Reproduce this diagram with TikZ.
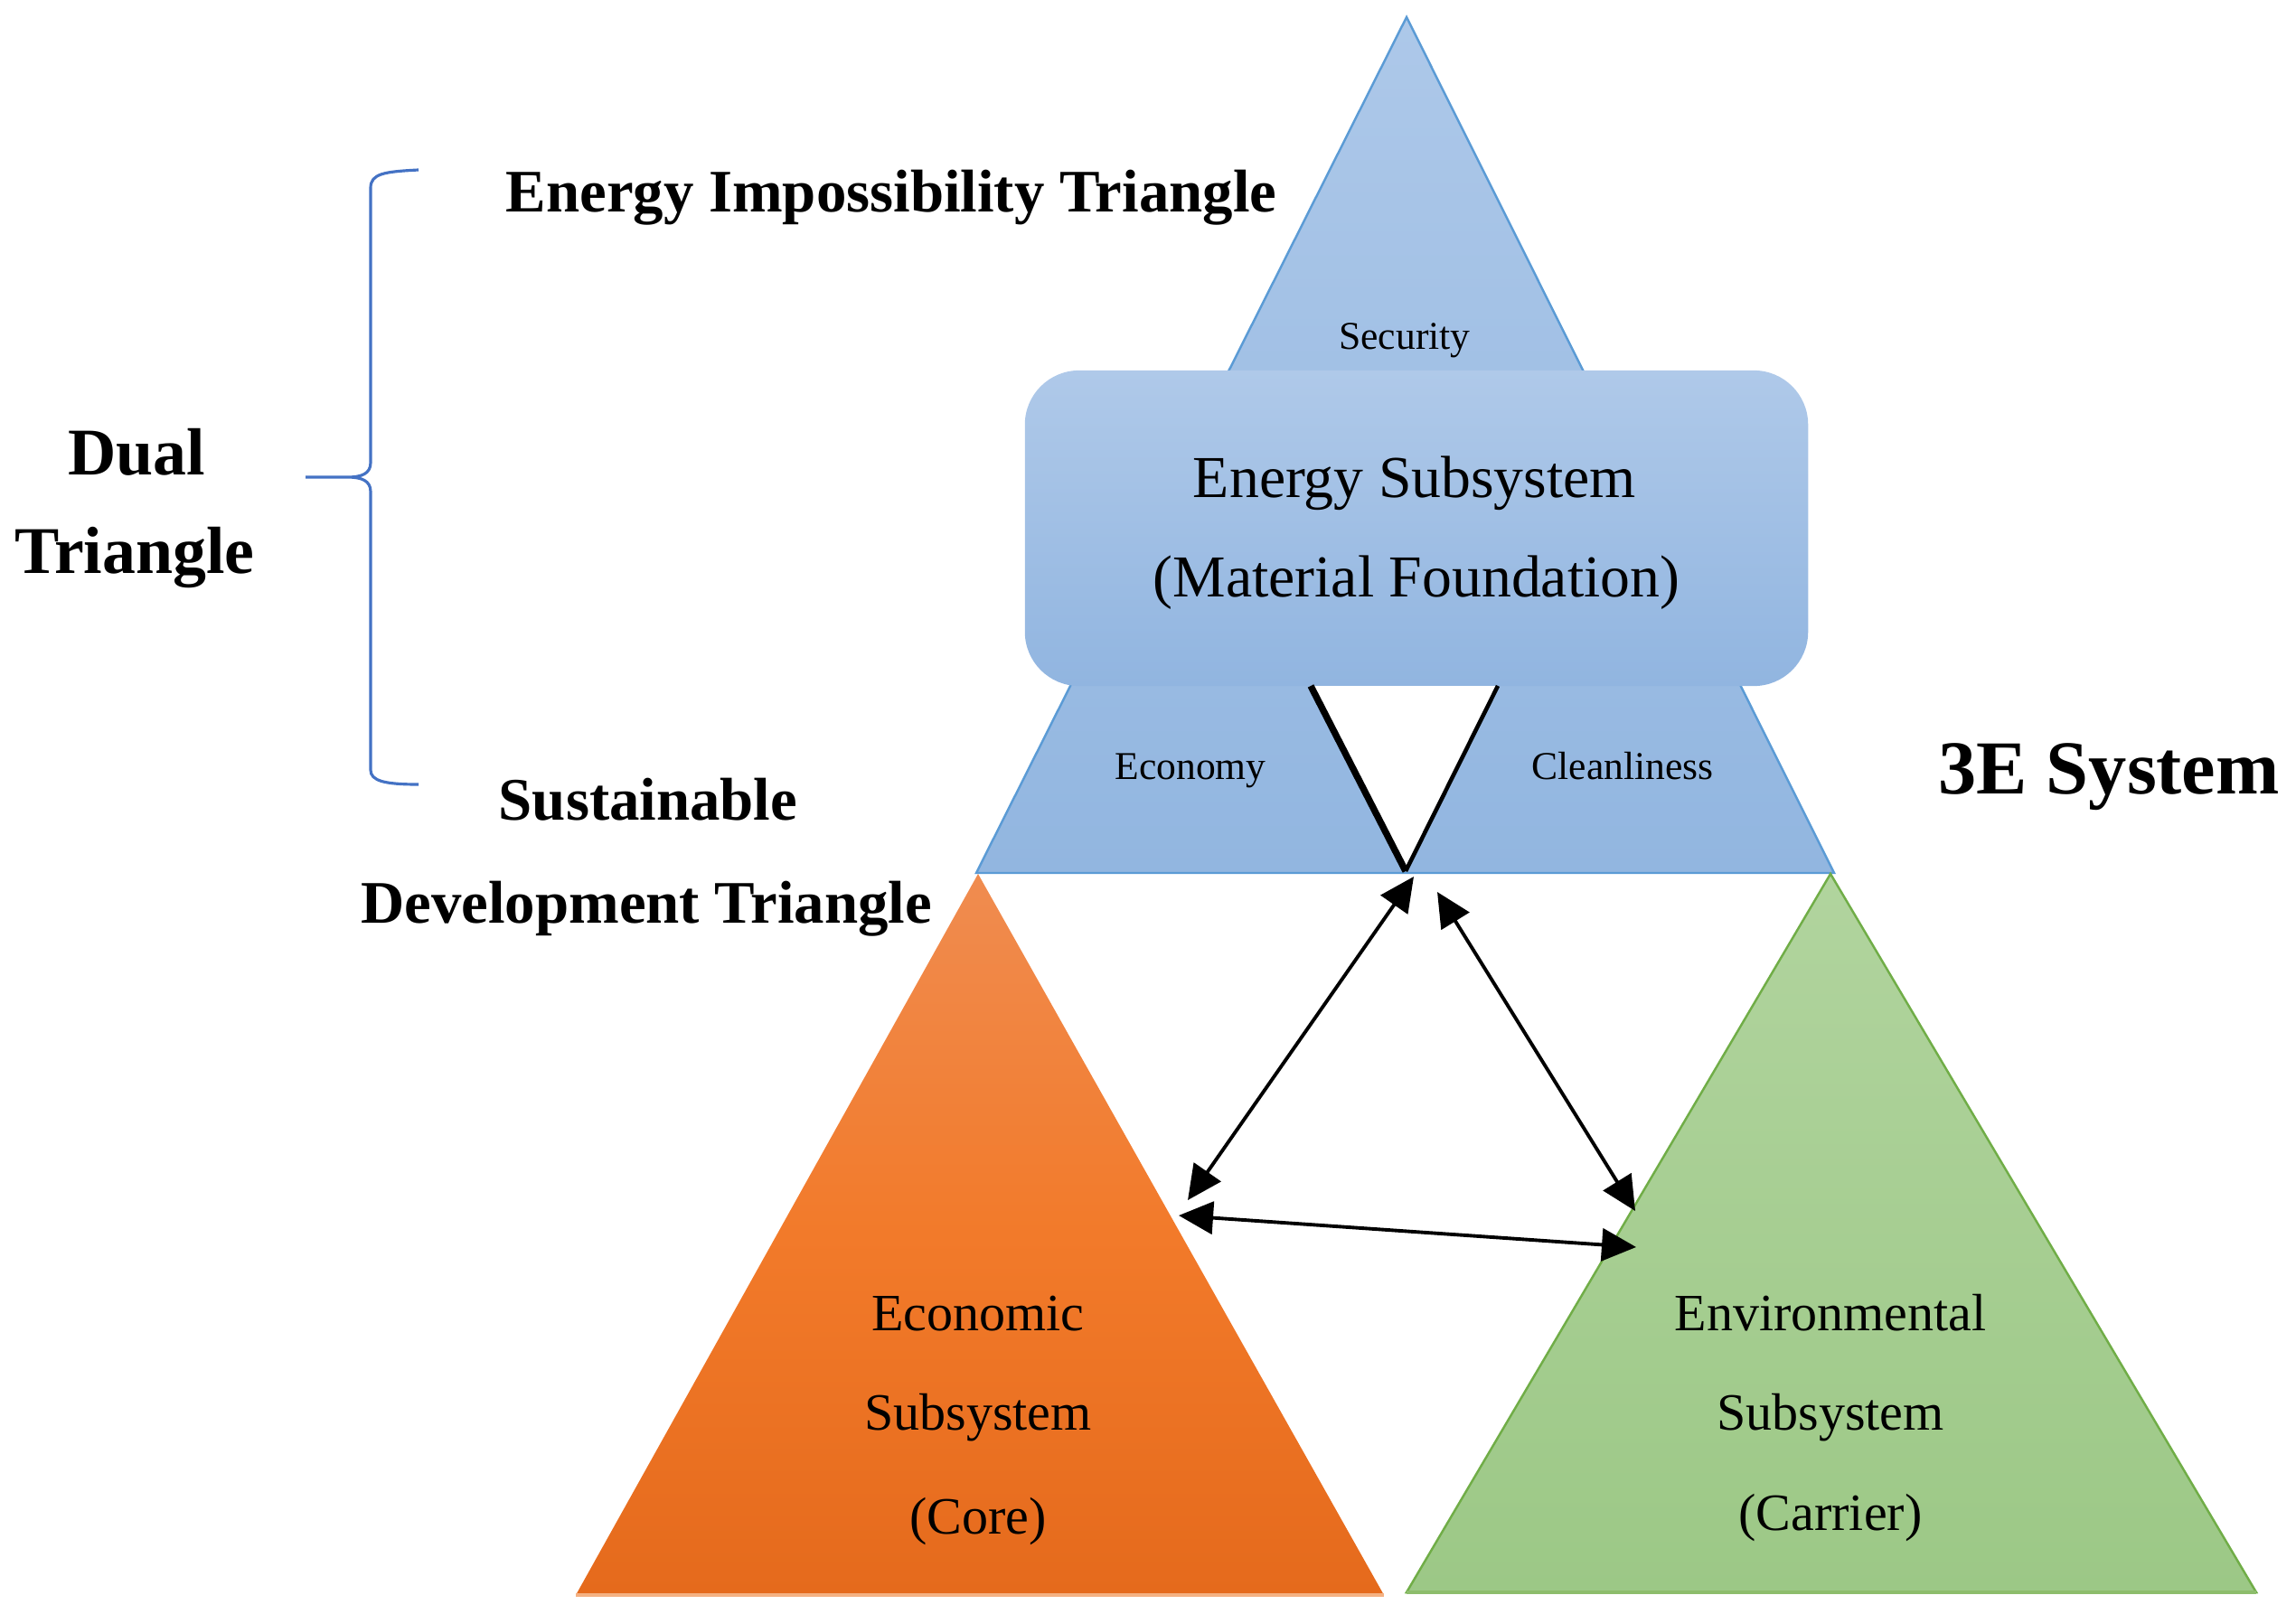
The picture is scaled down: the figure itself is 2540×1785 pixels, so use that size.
\documentclass[tikz,border=0pt]{standalone}
\usepackage{fontspec}
\setmainfont{Liberation Serif}
\usetikzlibrary{arrows.meta}
\definecolor{bluetop}{RGB}{173,200,233}
\definecolor{bluebot}{RGB}{146,182,224}
\definecolor{blueedge}{RGB}{91,155,213}
\definecolor{recttop}{RGB}{175,201,233}
\definecolor{rectbot}{RGB}{145,181,224}
\definecolor{orgtop}{RGB}{240,140,80}
\definecolor{orgmid}{RGB}{242,122,42}
\definecolor{orgbot}{RGB}{229,106,28}
\definecolor{orgedge}{RGB}{244,177,131}
\definecolor{grntop}{RGB}{177,212,158}
\definecolor{grnbot}{RGB}{156,200,134}
\definecolor{grnedge}{RGB}{112,173,71}
\definecolor{bracecol}{RGB}{68,114,196}
\begin{document}
\begin{tikzpicture}[x=0.01cm,y=-0.01cm,
  boldlbl/.style={anchor=base, inner sep=0pt, font=\fontsize{19}{23}\selectfont\bfseries},
  biglbl/.style={anchor=base, inner sep=0pt, font=\fontsize{21}{25}\selectfont\bfseries},
  small/.style={anchor=base, inner sep=0pt, font=\fontsize{12.4}{15}\selectfont},
  mid/.style={anchor=base, inner sep=0pt, font=\fontsize{18.7}{22}\selectfont},
  sub/.style={anchor=base, inner sep=0pt, font=\fontsize{16.5}{20}\selectfont},
  arr/.style={line width=1.1pt, {Triangle[length=0.38cm,width=0.36cm]}-{Triangle[length=0.38cm,width=0.36cm]}},
  ]
\useasboundingbox (0,0) rectangle (2540,1785);
% vertices
\coordinate (bA) at (1556,19);
\coordinate (bL) at (1080,966);
\coordinate (bR) at (2029,966);
\coordinate (oA) at (1082,967);
\coordinate (oL) at (637,1765);
\coordinate (oR) at (1531,1765);
\coordinate (gA) at (2025,967);
\coordinate (gL) at (1556,1762);
\coordinate (gR) at (2496,1762);
% blue triangle
\path[top color=bluetop, bottom color=bluebot, draw=blueedge, line width=0.7pt] (bA) -- (bL) -- (bR) -- cycle;
% orange triangle
\path[top color=orgtop, bottom color=orgbot, middle color=orgmid] (oA) -- (oL) -- (oR) -- cycle;
\draw[orgedge, line width=1.2pt] (oL) -- (oR);
% green triangle
\path[top color=grntop, bottom color=grnbot, draw=grnedge, line width=0.7pt] (gA) -- (gL) -- (gR) -- cycle;
\draw[grnedge!80!white, line width=1.2pt] (gL) -- (gR);
% energy subsystem box
\node[rounded corners=0.6cm, minimum width=8.66cm, minimum height=3.49cm, top color=recttop, bottom color=rectbot, inner sep=0pt] (es) at (1567,584.5) {};
\node[mid] (es1) at (1565,550) {Energy Subsystem};
\node[mid] (es2) at (1567,660) {(Material Foundation)};
% small labels
\node[small] (sec) at (1554,386) {Security};
\node[small] (eco) at (1317,862) {Economy};
\node[small] (cln) at (1795,862) {Cleanliness};
% lines from box to centre, white V between them
\coordinate (l1) at (1450,759);
\coordinate (l2) at (1657,759);
\coordinate (m) at (1555,964);
\fill[white] (l1) -- (l2) -- (m) -- cycle;
\draw[line width=2.1pt] (l1) -- (m);
\draw[line width=1.3pt] (l2) -- (m);
% arrows
\coordinate (a1s) at (1564,970);
\coordinate (a1e) at (1314,1328);
\coordinate (a2s) at (1590,987);
\coordinate (a2e) at (1809,1340);
\coordinate (a3s) at (1304,1345);
\coordinate (a3e) at (1810,1380);
\draw[arr] (a1s) -- (a1e);
\draw[arr] (a2s) -- (a2e);
\draw[arr] (a3s) -- (a3e);
% subsystem texts
\node[sub] (ec1) at (1082,1472) {Economic};
\node[sub] (ec2) at (1082,1582) {Subsystem};
\node[sub] (ec3) at (1082,1697) {(Core)};
\node[sub] (en1) at (2025,1472) {Environmental};
\node[sub] (en2) at (2025,1582) {Subsystem};
\node[sub] (en3) at (2025,1693) {(Carrier)};
% bold labels
\node[boldlbl] (eit) at (986,235) {Energy Impossibility Triangle};
\node[boldlbl] (sdt1) at (717,907) {Sustainable};
\node[boldlbl] (sdt2) at (715,1021) {Development Triangle};
\node[biglbl] (dual1) at (151,525) {Dual};
\node[biglbl] (dual2) at (149,634) {Triangle};
\node[anchor=base, inner sep=0pt, font=\fontsize{24}{28}\selectfont\bfseries] (sys) at (2333,878) {3E System};
% brace
\coordinate (bt) at (463,188);
\coordinate (bb) at (463,868);
\coordinate (btip) at (338,528);
\draw[bracecol, line width=0.9pt] (bt) .. controls (425,190) and (410,192) .. (410,208) -- (410,512)
  .. controls (410,524) and (400,528) .. (385,528) -- (btip) -- (385,528)
  .. controls (400,528) and (410,532) .. (410,544) -- (410,852)
  .. controls (410,864) and (425,868) .. (bb);
\end{tikzpicture}
\end{document}
